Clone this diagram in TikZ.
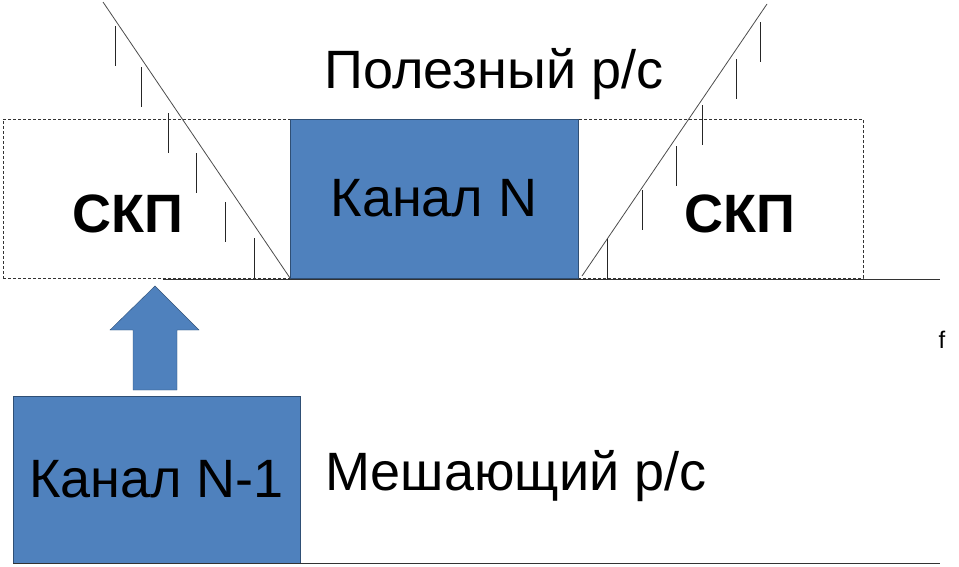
\documentclass[tikz,border=0pt]{standalone}
\usepackage{fontspec}
\setmainfont{Liberation Sans}
\usetikzlibrary{positioning,calc}
\definecolor{chanblue}{HTML}{4F81BD}
\definecolor{chanedge}{HTML}{2F4F75}
\tikzstyle{chanbox} = [draw=chanedge, fill=chanblue, rectangle, inner sep=0pt, outer sep=0pt, font=\fontsize{54}{60}\selectfont]
\tikzstyle{guardbox} = [draw=black!80, dash pattern=on 3pt off 2pt, rectangle, inner sep=0pt, outer sep=0pt]
\tikzstyle{bigtext} = [inner sep=0pt, anchor=base, font=\fontsize{54}{60}\selectfont]
\tikzstyle{skptext} = [bigtext, font=\fontsize{54}{60}\selectfont\bfseries]
\tikzstyle{hatch} = [black!85, line width=1pt]
\tikzstyle{slope} = [black!70, line width=0.8pt]

\begin{document}
\begin{tikzpicture}[x=1pt,y=-1pt]
  \useasboundingbox (0,0) rectangle (959,566);
  \begin{scope}
    \node[guardbox, minimum width=287pt, minimum height=159pt] (gapL) at (146.5,198.5) {};
    \node[guardbox, minimum width=285pt, minimum height=159pt] (gapR) at (720.5,198.5) {};
    \node[chanbox, minimum width=288pt, minimum height=159pt] (chanN) at (434,198.5) {Канал N};
    \node[skptext] (skpL) at (128,232) {СКП};
    \node[skptext] (skpR) at (740,232) {СКП};
    \node[bigtext] (useful) at (494,88) {Полезный р/с};
    \coordinate (axisA) at (163,279);
    \coordinate (axisB) at (940,279);
    \draw[black!80] (axisA) -- (axisB);
    \node[inner sep=0pt, anchor=base, font=\fontsize{24}{28}\selectfont] (freq) at (942,348) {f};
    \coordinate (slopeL) at (103,2);
    \coordinate (slopeR) at (767,4);
    \coordinate (footR) at (582,276);
    \draw[slope] (slopeL) -- (gapL.south east);
    \draw[slope] (footR) -- (slopeR);
    \foreach \x/\y in {115/26, 141/67, 168/113, 196/153, 225/202, 254/238}
      \draw[hatch] (\x,\y) -- ++(0,40);
    \foreach \x/\y in {607/239, 642/190, 676/146, 702/105, 736/59, 760/22}
      \draw[hatch] (\x,\y) -- ++(0,40);
  \end{scope}
  \begin{scope}
    \node[chanbox, minimum width=287pt, minimum height=167pt] (chanM) at (156.5,479.5) {Канал N-1};
    \coordinate (axisC) at (940,563);
    \draw[black!80] (chanM.south west) -- (axisC);
    \node[bigtext, anchor=base west] (interf) at (325,490) {Мешающий р/с};
    \draw[draw=chanedge, fill=chanblue] (133,390) -- (133,330) -- (110,330) -- (155,286)
      -- (199,330) -- (177,330) -- (177,390) -- cycle;
  \end{scope}
\end{tikzpicture}
\end{document}
